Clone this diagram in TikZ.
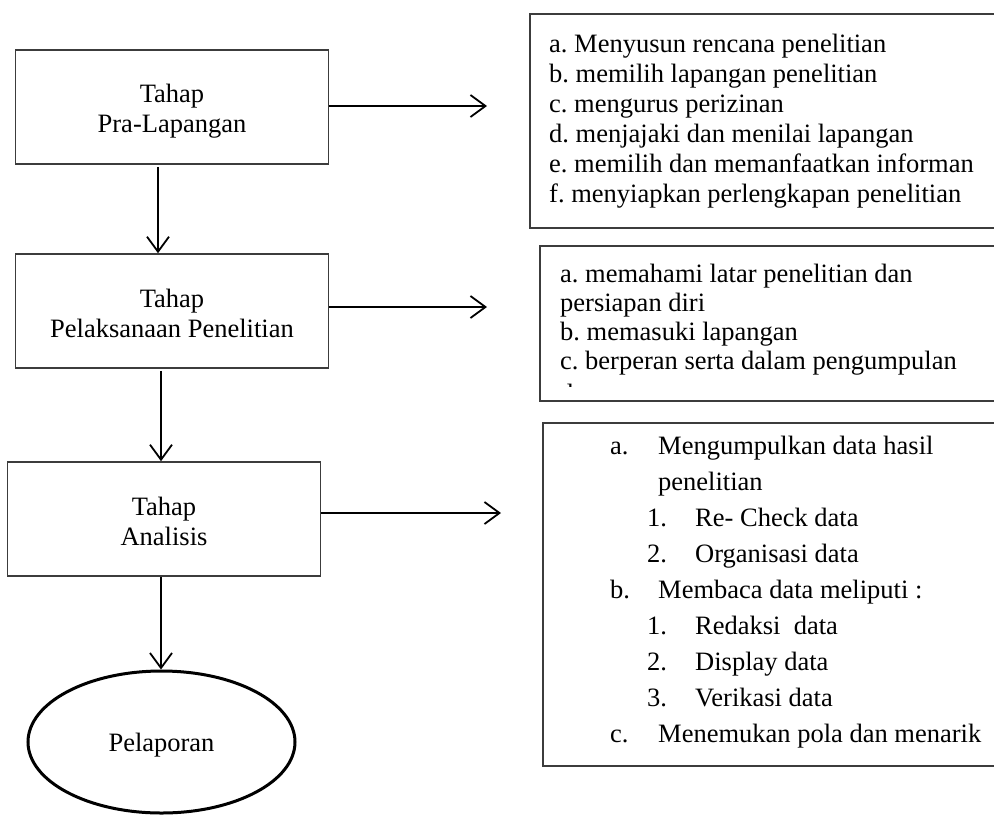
\documentclass[tikz,border=0pt]{standalone}
\usepackage{fontspec}
\setmainfont{Liberation Serif}
\usetikzlibrary{arrows.meta,shapes.geometric}
\definecolor{boxgray}{RGB}{60,60,60}
\frenchspacing
\begin{document}
\begin{tikzpicture}[x=1pt,y=-1pt,
  every node/.style={font=\fontsize{26.5}{30}\selectfont},
  stage/.style={draw=boxgray, line width=1.6pt, rectangle, inner sep=0pt, align=center, minimum width=313pt, minimum height=114pt},
  stagetext/.style={inner sep=0pt, align=center},
  listbox/.style={draw=boxgray, line width=1.8pt, rectangle, inner sep=0pt, anchor=north west},
  item/.style={anchor=base west, inner sep=0pt},
  arr/.style={draw=black, line width=1.8pt, -{Straight Barb[length=15pt,width=22pt]}}
]
\useasboundingbox (0,0) rectangle (994,815);
\clip (0,0) rectangle (994,815);

% left stages
\node[stage] (b1) at (172,107) {};
\node[stagetext] (b1t) at (172,111) {Tahap\\Pra-Lapangan};
\node[stage] (b2) at (172,311) {};
\node[stagetext] (b2t) at (172,313) {Tahap\\Pelaksanaan Penelitian};
\node[stage] (b3) at (164,519) {};
\node[stagetext] (b3t) at (164,521) {Tahap\\Analisis};
\node[draw=black, ellipse, line width=3pt, inner sep=0pt, minimum width=267pt, minimum height=142pt] (e) at (161.5,742) {};
\node[inner sep=0pt] (et) at (161.5,745) {Pelaporan};

% right boxes
\node[listbox, minimum width=500pt, minimum height=214pt] (la) at (529,13) {};
\node[listbox, minimum width=500pt, minimum height=155pt] (lb) at (539,245) {};
\node[listbox, minimum width=500pt, minimum height=343pt] (lc) at (542,422) {};

% box A text
\node[item] (a1) at (549,52)  {a. Menyusun rencana penelitian};
\node[item] (a2) at (549,82)  {b. memilih lapangan penelitian};
\node[item] (a3) at (549,112) {c. mengurus perizinan};
\node[item] (a4) at (549,142) {d. menjajaki dan menilai lapangan};
\node[item] (a5) at (549,172) {e. memilih dan memanfaatkan informan};
\node[item] (a6) at (549,202) {f. menyiapkan perlengkapan penelitian};

% box B text
\node[item] (p1) at (560,282) {a. memahami latar penelitian dan};
\node[item] (p2) at (560,311) {persiapan diri};
\node[item] (p3) at (560,340) {b. memasuki lapangan};
\node[item] (p4) at (560,369) {c. berperan serta dalam pengumpulan};
\begin{scope}
  \clip (539,245) rectangle (994,386);
  \node[item] (p5) at (560,402) {data};
\end{scope}

% box C text
\node[item] (c1l) at (610,454) {a.};
\node[item] (c1)  at (658,454) {Mengumpulkan data hasil};
\node[item] (c2)  at (658,490) {penelitian};
\node[item] (c3l) at (647,526) {1.};
\node[item] (c3)  at (695,526) {Re- Check data};
\node[item] (c4l) at (647,562) {2.};
\node[item] (c4)  at (695,562) {Organisasi data};
\node[item] (c5l) at (610,598) {b.};
\node[item] (c5)  at (658,598) {Membaca data meliputi :};
\node[item] (c6l) at (647,634) {1.};
\node[item] (c6)  at (695,634) {Redaksi~ data};
\node[item] (c7l) at (647,670) {2.};
\node[item] (c7)  at (695,670) {Display data};
\node[item] (c8l) at (647,706) {3.};
\node[item] (c8)  at (695,706) {Verikasi data};
\node[item] (c9l) at (610,742) {c.};
\node[item] (c9)  at (658,742) {Menemukan pola dan menarik};

% arrow end points
\coordinate (t1) at (487,106);
\coordinate (t2) at (487,307);
\coordinate (t3) at (501,513);

% connectors
\draw[arr] (b1.east |- 0,106) -- (t1);
\draw[arr] (b2.east |- 0,307) -- (t2);
\draw[arr] (b3.east |- 0,513) -- (t3);
\draw[arr] ([yshift=-2pt]b1.south -| 158,0) -- (b2.north -| 158,0);
\draw[arr] ([yshift=-2pt]b2.south -| 161,0) -- (b3.north -| 161,0);
\draw[arr] (b3.south -| 161,0) -- (e.north -| 161,0);
\end{tikzpicture}
\end{document}
